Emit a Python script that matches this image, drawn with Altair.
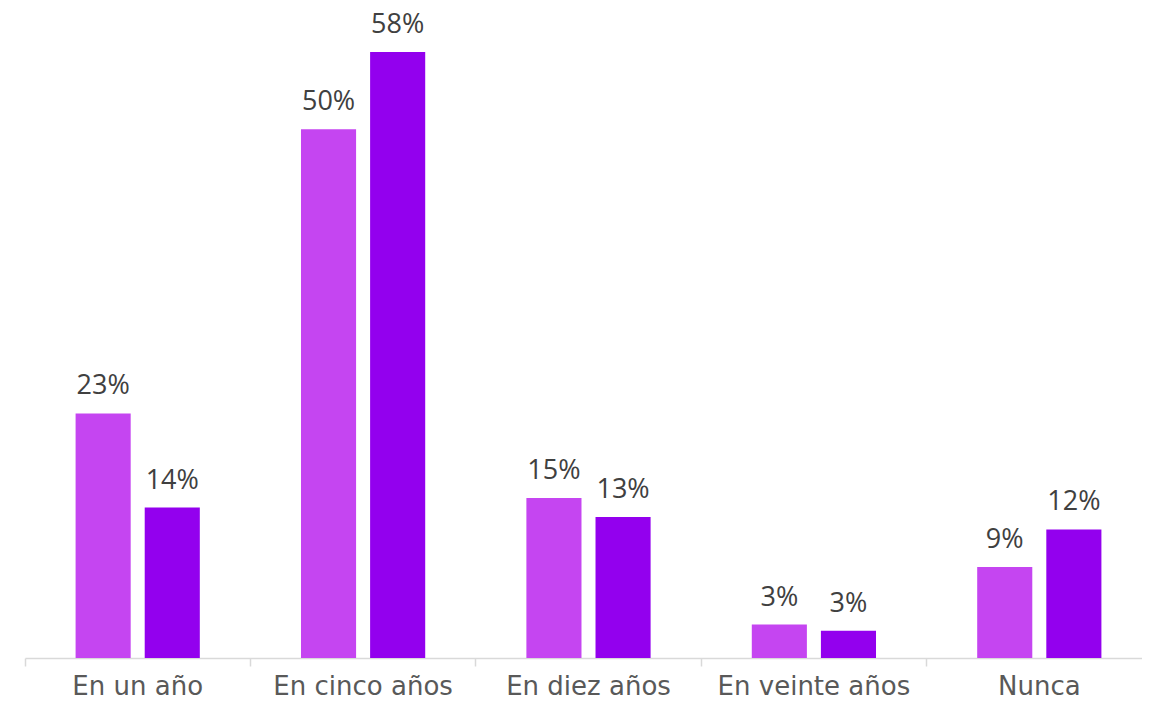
import altair as alt
import pandas as pd

categories = ["En un año", "En cinco años", "En diez años", "En veinte años", "Nunca"]
series_names = ["Serie 1", "Serie 2"]
values_1 = [23.4, 50.6, 15.3, 3.2, 8.7]
values_2 = [14.4, 58.0, 13.5, 2.6, 12.3]
labels_1 = ["23%", "50%", "15%", "3%", "9%"]
labels_2 = ["14%", "58%", "13%", "3%", "12%"]
colors = ["#C545F1", "#9300EE"]

rows = []
for i, c in enumerate(categories):
    rows.append({"cat": c, "serie": series_names[0], "val": values_1[i], "lab": labels_1[i]})
    rows.append({"cat": c, "serie": series_names[1], "val": values_2[i], "lab": labels_2[i]})
df = pd.DataFrame(rows)

x = alt.X("cat:N", sort=categories, title=None,
          scale=alt.Scale(paddingInner=0, paddingOuter=0, range=[0, 1127]),
          axis=alt.Axis(labelAngle=0, labelFont="DejaVu Sans", labelFontSize=26,
                        labelColor="#595959", labelPadding=7, domainColor="#D9D9D9",
                        domainWidth=1.5, tickColor="#D9D9D9", tickWidth=1.5, tickSize=8,
                        bandPosition=0, labelBound=False, labelOverlap=False,
                        labelLimit=0))
xo = alt.XOffset("serie:N", sort=series_names,
                 scale=alt.Scale(paddingInner=0.2029, paddingOuter=0.7319))
y = alt.Y("val:Q", scale=alt.Scale(domain=[0, 62.2], nice=False, zero=True), axis=None)

base = alt.Chart(df).encode(x=x, xOffset=xo, y=y)

bars = base.mark_bar().encode(
    color=alt.Color("serie:N", scale=alt.Scale(domain=series_names, range=colors), legend=None)
)
text = base.mark_text(baseline="alphabetic", dy=-19, font="Open Sans", fontSize=27,
                      color="#404040").encode(text="lab:N")

chart = (bars + text).properties(
    width=1117, height=650,
    autosize=alt.AutoSizeParams(type="none"),
    padding={"left": 17, "top": 0, "right": 0, "bottom": 39},
).configure_view(stroke=None)

chart.save("out.html", embed_options={"renderer": "svg", "actions": False})
